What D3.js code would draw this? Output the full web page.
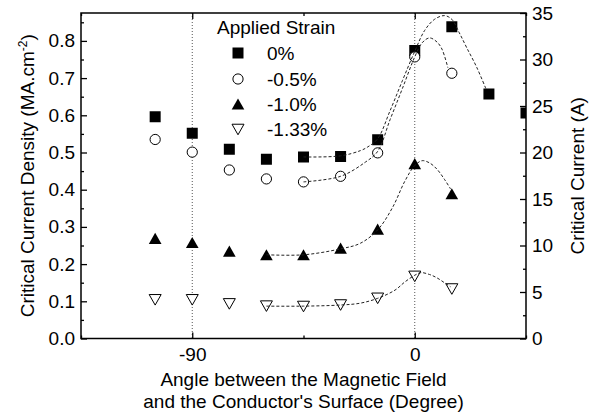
<!DOCTYPE html>
<html>
<head>
<meta charset="utf-8">
<script src="https://cdn.jsdelivr.net/npm/d3@7"></script>
<style>
  html, body { margin: 0; padding: 0; background: #fff; }
  svg text { font-family: "Liberation Sans", Arial, Helvetica, sans-serif; fill: #000; }
</style>
</head>
<body>
<svg id="chart" width="595" height="417"></svg>
<script>
// Measured critical current density (MA/cm^2) vs field angle (degrees)
const angles = [-105, -90, -75, -60, -45, -30, -15, 0, 15, 30, 45];
const anglesShort = [-105, -90, -75, -60, -45, -30, -15, 0, 15];

const strain0   = [0.596, 0.552, 0.509, 0.482, 0.488, 0.489, 0.534, 0.774, 0.838, 0.657, 0.606];
const strain05  = [0.535, 0.501, 0.453, 0.429, 0.421, 0.436, 0.499, 0.757, 0.713];
const strain10  = [0.269, 0.258, 0.235, 0.225, 0.225, 0.243, 0.294, 0.470, 0.389];
const strain133 = [0.104, 0.104, 0.093, 0.087, 0.086, 0.090, 0.108, 0.167, 0.133];

// Fitted peak curves (angle, Jc) drawn as dashed guides
const fit0 = [[-45,0.488],[-30,0.491],[-22,0.505],[-19,0.515],[-15,0.537],[-10,0.612],[-5,0.693],[0,0.772],
              [4,0.828],[8,0.858],[12,0.868],[15,0.858],[18,0.822],[21,0.782],[25,0.730],[29,0.668]];
const fit05 = [[-45,0.421],[-30,0.436],[-20,0.474],[-15,0.503],[-10,0.588],[-5,0.672],[0,0.757],
               [3,0.795],[6,0.808],[9,0.797],[11,0.778],[13.4,0.728]];
const fit10 = [[-60,0.225],[-45,0.225],[-30,0.241],[-22,0.256],[-15,0.292],[-9,0.352],[-4,0.423],[0,0.465],
               [3,0.478],[6,0.472],[9,0.455],[12,0.428],[14.5,0.402]];
const fit133 = [[-60,0.087],[-45,0.087],[-30,0.090],[-22,0.095],[-15,0.108],[-8,0.130],[-4,0.152],[0,0.170],
                [2.5,0.177],[6,0.172],[9,0.163],[12,0.150],[14.5,0.139]];

const legendTitle = "Applied Strain";
const legendLabels = ["0%", "-0.5%", "-1.0%", "-1.33%"];

const xTicks = [-90, 0];
const xTickLabels = ["-90", "0"];
const xMinorTicks = [-135, -45, 45];
const guideAngles = [-90, 0];

const svg = d3.select("#chart");
const L = 81, R = 526, T = 13, B = 338.5;
const FS = 19;

const x = d3.scaleLinear().domain([-135, 45]).range([L, R]);
const yL = d3.scaleLinear().domain([0, 0.875]).range([B, T]);
const yR = d3.scaleLinear().domain([0, 35]).range([B, T]);

// Marker shapes
const sqType = { draw(c, s) { const h = Math.sqrt(s) / 2; c.moveTo(-h, -h); c.lineTo(h, -h); c.lineTo(h, h); c.lineTo(-h, h); c.closePath(); } };
const triUp = { draw(c, s) { const w = Math.sqrt(s), h = w * 0.88; c.moveTo(0, -h / 2); c.lineTo(w / 2, h / 2); c.lineTo(-w / 2, h / 2); c.closePath(); } };
const triDown = { draw(c, s) { const w = Math.sqrt(s), h = w * 0.88; c.moveTo(0, h / 2); c.lineTo(w / 2, -h / 2); c.lineTo(-w / 2, -h / 2); c.closePath(); } };

const series = [
  { xs: angles, ys: strain0, type: sqType, size: 121, fill: "#000", stroke: "none" },
  { xs: anglesShort, ys: strain05, type: d3.symbolCircle, size: 82, fill: "#fff", stroke: "#000" },
  { xs: anglesShort, ys: strain10, type: triUp, size: 160, fill: "#000", stroke: "none" },
  { xs: anglesShort, ys: strain133, type: triDown, size: 144, fill: "#fff", stroke: "#000" }
];
const fits = [fit0, fit05, fit10, fit133];

svg.append("defs").append("clipPath").attr("id", "plotClip")
  .append("rect").attr("x", L).attr("y", T).attr("width", R - L).attr("height", B - T);

// Dotted vertical guides
svg.append("g").selectAll("line").data(guideAngles).join("line")
  .attr("x1", d => x(d)).attr("x2", d => x(d)).attr("y1", T).attr("y2", B)
  .attr("stroke", "#555").attr("stroke-width", 1).attr("stroke-dasharray", "1,2");

// Markers
const markG = svg.append("g").attr("clip-path", "url(#plotClip)");
series.forEach(s => {
  const sym = d3.symbol().type(s.type).size(s.size);
  markG.append("g").selectAll("path").data(s.ys).join("path")
    .attr("d", sym)
    .attr("transform", (d, i) => `translate(${x(s.xs[i])},${yL(d)})`)
    .attr("fill", s.fill).attr("stroke", s.stroke).attr("stroke-width", 1);
});

// Dashed fit curves
const line = d3.line().x(d => x(d[0])).y(d => yL(d[1])).curve(d3.curveCatmullRom.alpha(0.5));
svg.append("g").attr("clip-path", "url(#plotClip)").selectAll("path").data(fits).join("path")
  .attr("d", line).attr("fill", "none").attr("stroke", "#222")
  .attr("stroke-width", 1).attr("stroke-dasharray", "3,2");

// Axes with inward ticks
function styleAxis(g) {
  g.select(".domain").remove();
  g.selectAll(".tick line").attr("stroke", "#000").attr("stroke-width", 1.3);
  g.selectAll(".tick text").attr("font-size", FS).attr("font-family", null);
}
const fmt1 = d3.format(".1f");
svg.append("g").attr("transform", `translate(${L},0)`)
  .call(d3.axisLeft(yL).tickValues(d3.range(0, 0.85, 0.1)).tickFormat(fmt1).tickSize(-6).tickPadding(6))
  .call(styleAxis);
svg.append("g").attr("transform", `translate(${L},0)`)
  .call(d3.axisLeft(yL).tickValues(d3.range(0.05, 0.875, 0.1)).tickFormat("").tickSize(-3))
  .call(styleAxis);
svg.append("g").attr("transform", `translate(${R},0)`)
  .call(d3.axisRight(yR).tickValues(d3.range(0, 36, 5)).tickFormat(d3.format("d")).tickSize(-6).tickPadding(6))
  .call(styleAxis);
svg.append("g").attr("transform", `translate(${R},0)`)
  .call(d3.axisRight(yR).tickValues(d3.range(2.5, 35, 5)).tickFormat("").tickSize(-3))
  .call(styleAxis);
svg.append("g").attr("transform", `translate(0,${B})`)
  .call(d3.axisBottom(x).tickValues(xTicks).tickFormat((d, i) => xTickLabels[i]).tickSize(-6).tickPadding(9))
  .call(styleAxis);
svg.append("g").attr("transform", `translate(0,${B})`)
  .call(d3.axisBottom(x).tickValues(xMinorTicks).tickFormat("").tickSize(-3))
  .call(styleAxis);
svg.append("g").attr("transform", `translate(0,${T})`)
  .call(d3.axisTop(x).tickValues(xTicks).tickFormat("").tickSize(-6))
  .call(styleAxis);
svg.append("g").attr("transform", `translate(0,${T})`)
  .call(d3.axisTop(x).tickValues(xMinorTicks).tickFormat("").tickSize(-3))
  .call(styleAxis);

// Frame
svg.append("rect").attr("x", L).attr("y", T).attr("width", R - L).attr("height", B - T)
  .attr("fill", "none").attr("stroke", "#000").attr("stroke-width", 1.5);

// Axis titles
const cx = (L + R) / 2;
svg.append("text").attr("x", cx).attr("y", 386).attr("text-anchor", "middle").attr("font-size", FS)
  .text("Angle between the Magnetic Field");
svg.append("text").attr("x", cx).attr("y", 408).attr("text-anchor", "middle").attr("font-size", FS)
  .text("and the Conductor's Surface (Degree)");

const cy = (T + B) / 2;
const lt = svg.append("text").attr("transform", `translate(34,${cy}) rotate(-90)`)
  .attr("text-anchor", "middle").attr("font-size", FS);
lt.append("tspan").text("Critical Current Density (MA.cm");
lt.append("tspan").attr("font-size", 12).attr("dy", -7).text("-2");
lt.append("tspan").attr("dy", 7).text(")");

svg.append("text").attr("transform", `translate(584,${cy}) rotate(-90)`)
  .attr("text-anchor", "middle").attr("font-size", FS)
  .text("Critical Current (A)");

// Legend
const lg = svg.append("g");
lg.append("text").attr("x", 217).attr("y", 34).attr("font-size", FS).text(legendTitle);
const rowY = [53, 79, 104, 129.5];
series.forEach((s, i) => {
  lg.append("path").attr("d", d3.symbol().type(s.type).size(s.size)())
    .attr("transform", `translate(238,${rowY[i]})`)
    .attr("fill", s.fill).attr("stroke", s.stroke).attr("stroke-width", 1);
  lg.append("text").attr("x", 267).attr("y", rowY[i] + 6.5).attr("font-size", FS).text(legendLabels[i]);
});
</script>
</body>
</html>
